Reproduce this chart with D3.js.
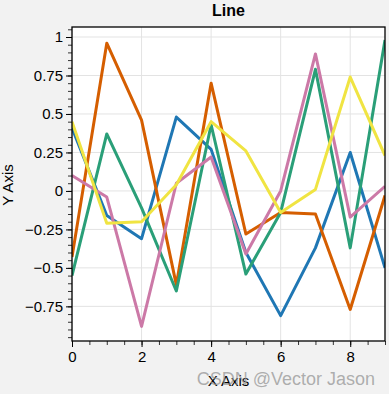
<!DOCTYPE html>
<html><head><meta charset="utf-8">
<script src="https://cdn.jsdelivr.net/npm/d3@7"></script>
<style>
html,body{margin:0;padding:0;background:#f2f2f2;}
svg{display:block;}
text{font-family:"Liberation Sans",Arial,sans-serif;}
</style></head>
<body>
<svg id="chart" width="389" height="394"></svg>
<script>
const xValues = [0,1,2,3,4,5,6,7,8,9];
const seriesNames = ["s1","s2","s3","s4","s5"];
const seriesColors = ["#1f77b4","#d55e00","#2a9f78","#cc79a7","#f0e442"];
const blue   = [0.41,-0.16,-0.31,0.48,0.27,-0.40,-0.81,-0.37,0.25,-0.50];
const orange = [-0.43,0.96,0.46,-0.61,0.70,-0.28,-0.14,-0.15,-0.77,-0.03];
const green  = [-0.55,0.37,-0.11,-0.65,0.43,-0.54,-0.14,0.79,-0.37,0.98];
const pink   = [0.10,-0.04,-0.88,0.05,0.22,-0.41,0.00,0.89,-0.17,0.03];
const yellow = [0.45,-0.21,-0.20,0.04,0.45,0.26,-0.14,0.01,0.74,0.23];
const yTickValues = [-0.75,-0.5,-0.25,0,0.25,0.5,0.75,1];
const yTickLabels = ["\u22120.75","\u22120.5","\u22120.25","0","0.25","0.5","0.75","1"];
const xTickValues = [0,2,4,6,8];
const xTickLabels = ["0","2","4","6","8"];
const titleText = "Line", xLabel = "X Axis", yLabel = "Y Axis";
const watermark = "CSDN @Vector Jason";

const allSeries = [blue,orange,green,pink,yellow];
const svg = d3.select("#chart");
const L=72, R=385, T=27, B=341;
const x = d3.scaleLinear().domain([0,9]).range([L,R]);
const y = d3.scaleLinear().domain([-0.975,1.065]).range([B,T]);

svg.append("rect").attr("x",L).attr("y",T).attr("width",R-L).attr("height",B-T).attr("fill","#fff");

// grid
const g = svg.append("g");
g.selectAll(".gx").data(xTickValues).join("line")
  .attr("x1",d=>x(d)).attr("x2",d=>x(d)).attr("y1",T).attr("y2",B)
  .attr("stroke","#e3e3e3").attr("stroke-width",1);
g.selectAll(".gy").data(yTickValues).join("line")
  .attr("x1",L).attr("x2",R).attr("y1",d=>y(d)).attr("y2",d=>y(d))
  .attr("stroke","#e3e3e3").attr("stroke-width",1);

// lines
svg.append("clipPath").attr("id","clp").append("rect")
  .attr("x",L).attr("y",T).attr("width",R-L).attr("height",B-T);
const line = d3.line().x((d,i)=>x(xValues[i])).y(d=>y(d));
svg.append("g").attr("clip-path","url(#clp)").selectAll("path").data(allSeries).join("path")
  .attr("d",line).attr("fill","none")
  .attr("stroke",(d,i)=>seriesColors[i]).attr("stroke-width",3)
  .attr("stroke-linejoin","round").attr("stroke-linecap","butt");

// axes
const yMinor = d3.range(-0.95,1.06,0.05).map(v=>+v.toFixed(2));
const xMinor = d3.range(0,9.01,0.5);
const yAxisMinor = d3.axisLeft(y).tickValues(yMinor).tickSize(4).tickFormat("");
const yAxis = d3.axisLeft(y).tickValues(yTickValues).tickSize(6).tickPadding(3)
  .tickFormat((d,i)=>yTickLabels[i]);
const xAxisMinor = d3.axisBottom(x).tickValues(xMinor).tickSize(4).tickFormat("");
const xAxis = d3.axisBottom(x).tickValues(xTickValues).tickSize(6).tickPadding(4)
  .tickFormat((d,i)=>xTickLabels[i]);

function style(sel, col){
  sel.select(".domain").remove();
  sel.selectAll("line").attr("stroke",col).attr("stroke-width",1);
  sel.selectAll("text").attr("fill","#000").style("font-size","15px");
}
svg.append("g").attr("transform",`translate(${L},0)`).call(yAxisMinor).call(s=>style(s,"#333"));
svg.append("g").attr("transform",`translate(${L},0)`).call(yAxis).call(s=>style(s,"#000"));
svg.append("g").attr("transform",`translate(0,${B})`).call(xAxisMinor).call(s=>style(s,"#333"));
svg.append("g").attr("transform",`translate(0,${B})`).call(xAxis).call(s=>style(s,"#000"));

// frame
svg.append("rect").attr("x",L).attr("y",T).attr("width",R-L).attr("height",B-T)
  .attr("fill","none").attr("stroke","#000").attr("stroke-width",1.3);

// texts
svg.append("text").attr("x",(L+R)/2).attr("y",16).attr("text-anchor","middle")
  .style("font-size","16px").style("font-weight","bold").text(titleText);
svg.append("text").attr("x",(L+R)/2).attr("y",386).attr("text-anchor","middle")
  .style("font-size","15px").text(xLabel);
svg.append("text").attr("transform",`translate(13,${(T+B)/2+1}) rotate(-90)`).attr("text-anchor","middle")
  .style("font-size","15px").text(yLabel);
svg.append("text").attr("x",375).attr("y",385).attr("text-anchor","end")
  .style("font-size","18px").attr("fill","rgba(150,150,150,0.75)").text(watermark);
</script>
</body></html>
